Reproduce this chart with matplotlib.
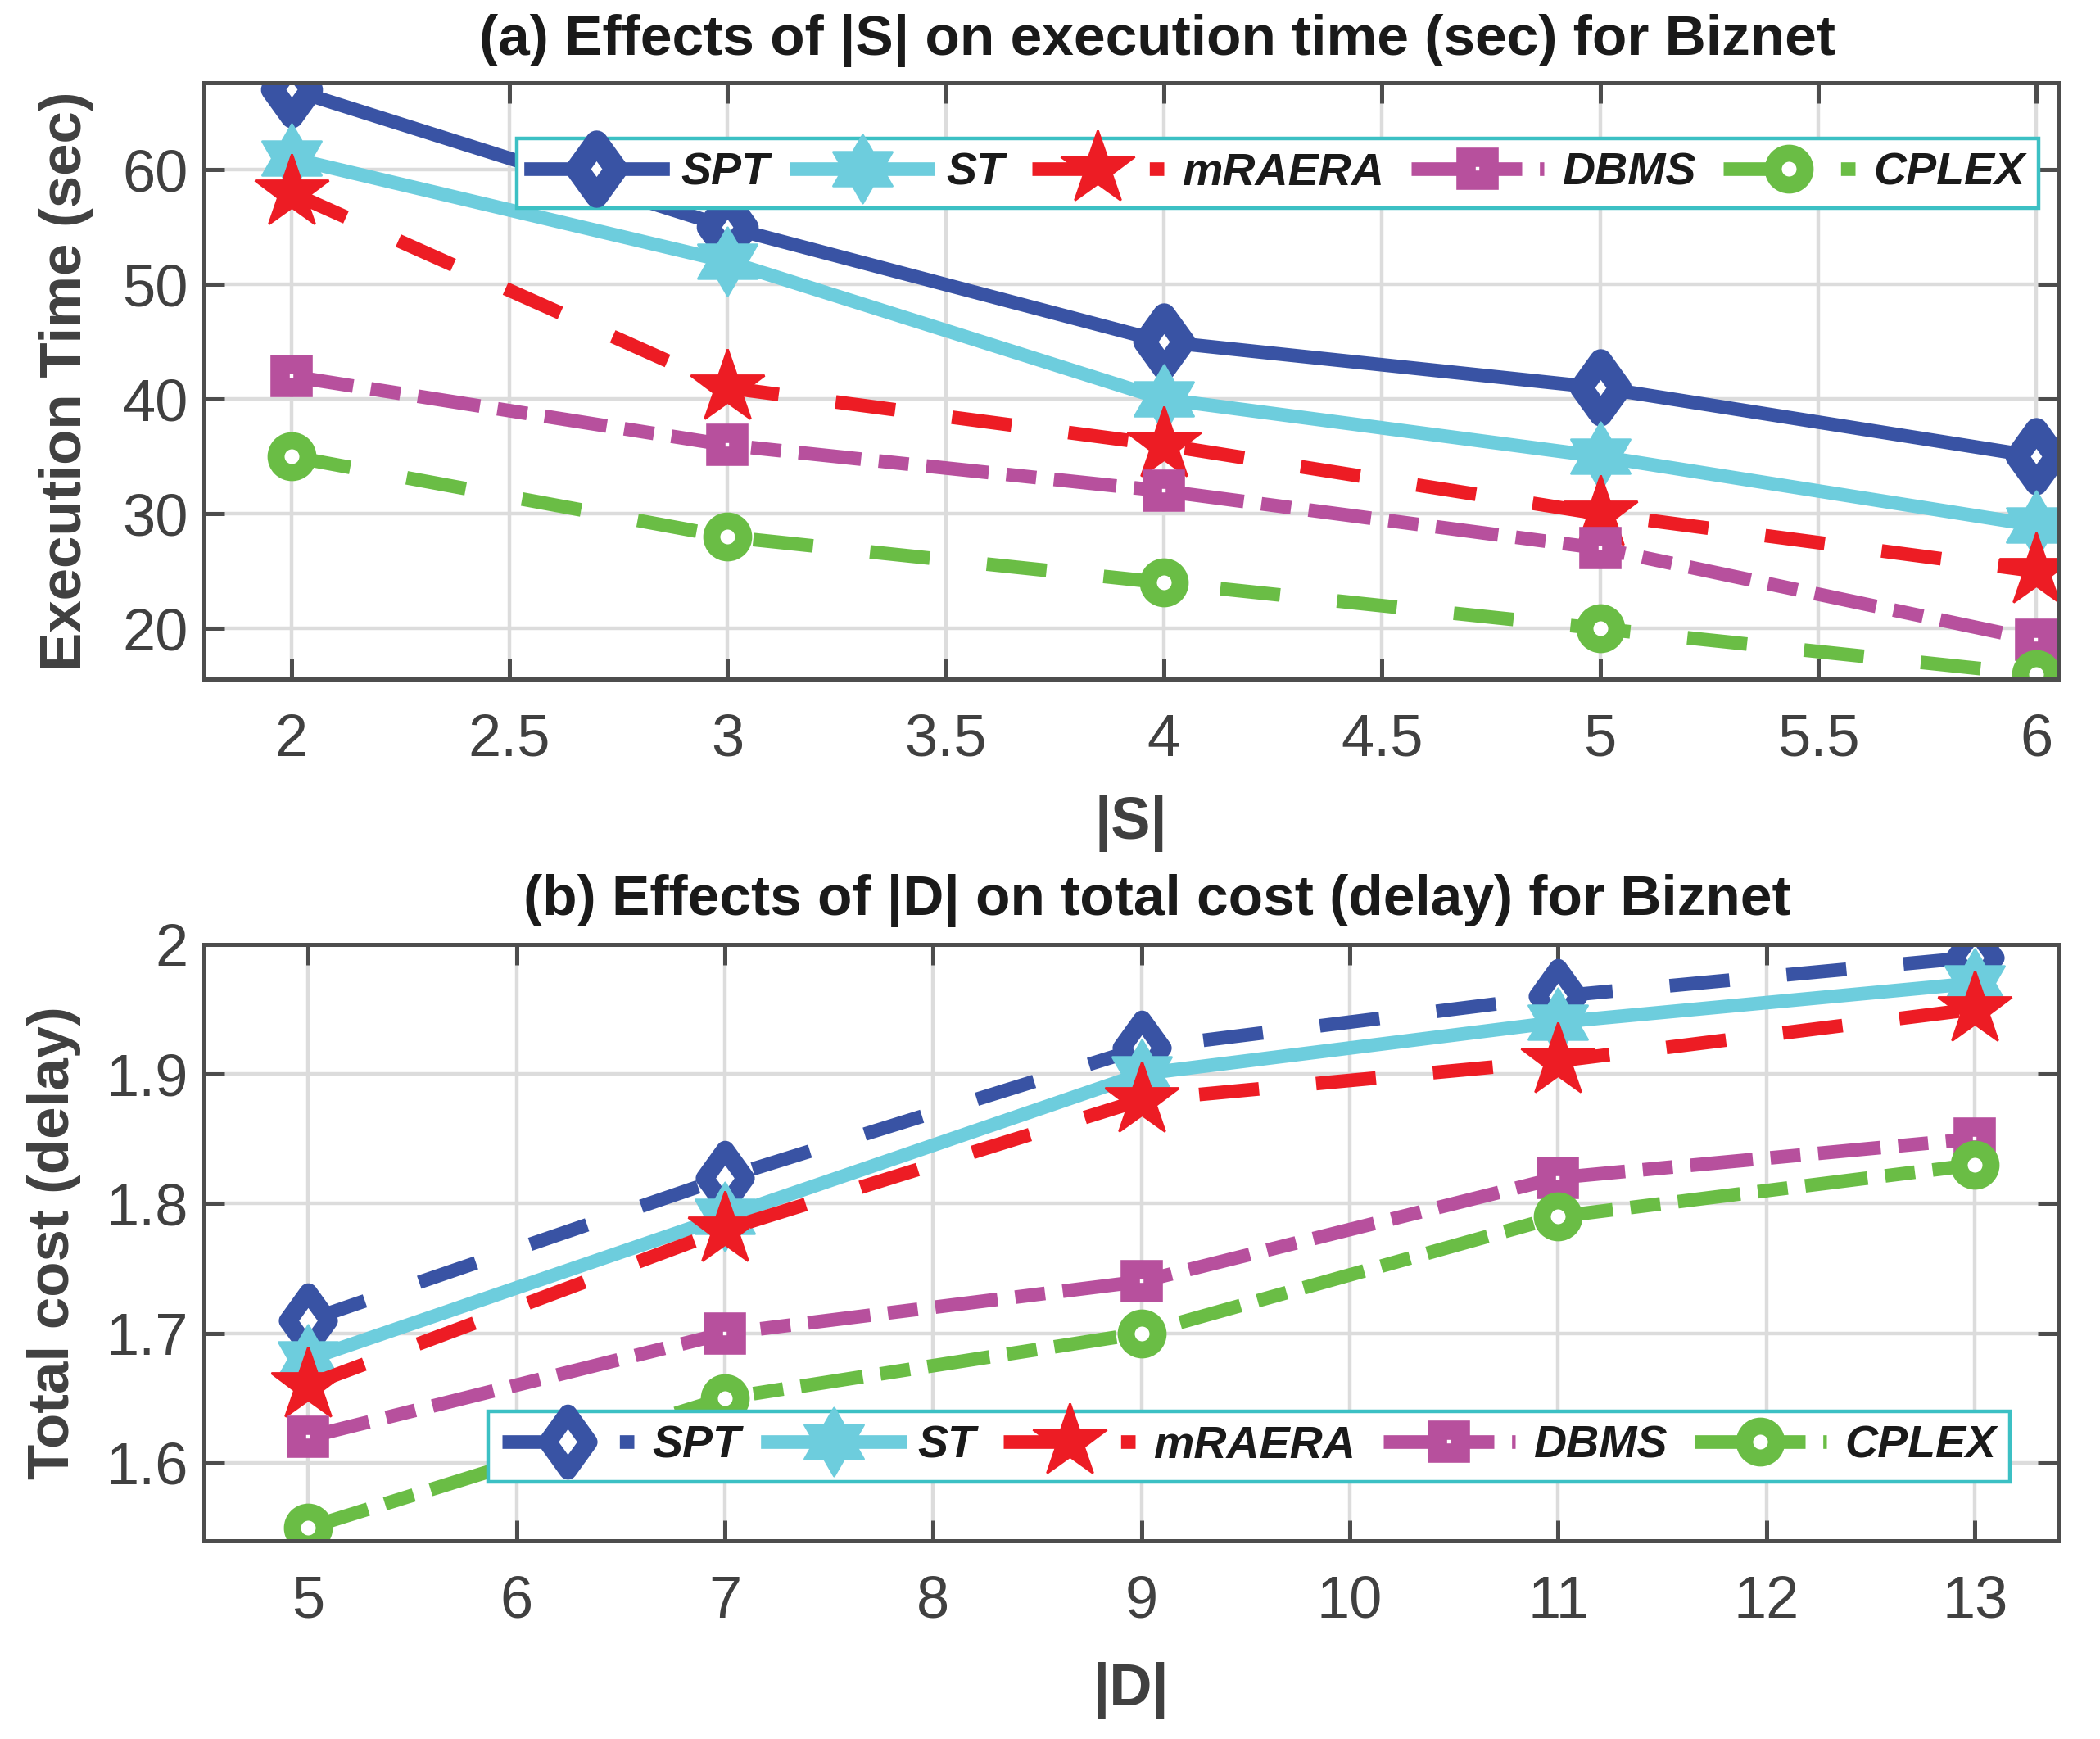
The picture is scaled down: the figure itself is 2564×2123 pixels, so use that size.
import numpy as np
import matplotlib
matplotlib.use("Agg")
import matplotlib.pyplot as plt
from matplotlib.path import Path
from matplotlib.markers import MarkerStyle

plt.rcParams['font.family'] = ['Liberation Sans', 'DejaVu Sans']

# data
methods = ['SPT', 'ST', 'mRAERA', 'DBMS', 'CPLEX']
s_values = [2, 3, 4, 5, 6]
time_spt = [67, 55, 45, 41, 35]
time_st = [61, 52, 40, 35, 29]
time_mraera = [58, 41, 36, 30, 25]
time_dbms = [42, 36, 32, 27, 19]
time_cplex = [35, 28, 24, 20, 16]

d_values = [5, 7, 9, 11, 13]
cost_spt = [1.71, 1.82, 1.92, 1.96, 1.99]
cost_st = [1.68, 1.79, 1.90, 1.94, 1.97]
cost_mraera = [1.66, 1.78, 1.88, 1.91, 1.95]
cost_dbms = [1.62, 1.70, 1.74, 1.82, 1.85]
cost_cplex = [1.55, 1.65, 1.70, 1.79, 1.83]

colors = ['#3953a4', '#6dcddd', '#ed1c24', '#b7509d', '#6abd45']

# markers (matlab-ish shapes)
diamond = MarkerStyle(Path([(0, 1), (0.72, 0), (0, -1), (-0.72, 0), (0, 1)], closed=True),
                      joinstyle='miter')
ang = np.pi / 2 + np.arange(12) * np.pi / 6
rad = np.where(np.arange(12) % 2 == 0, 1.0, 1 / np.sqrt(3))
hexv = list(zip(rad * np.cos(ang), rad * np.sin(ang))) + [(0, 1)]
hexagram = MarkerStyle(Path(hexv, closed=True), joinstyle='miter')

dashed = (0, (4.4, 4.2))
dashdot = (0, (4.6, 1.3, 2.2, 1.3))

styles_a = [
    dict(marker=diamond, ms=24, mfc='white', mew=10, ls='-'),
    dict(marker=hexagram, ms=30, mew=1, ls='-'),
    dict(marker='*', ms=34, mew=1, ls=dashed),
    dict(marker='s', ms=10, mfc='white', mew=8.5, ls=dashdot),
    dict(marker='o', ms=14, mfc='white', mew=7.5, ls=dashed),
]
styles_b = [
    dict(marker=diamond, ms=25, mfc='white', mew=8, ls=dashed),
    dict(marker=hexagram, ms=30, mew=1, ls='-'),
    dict(marker='*', ms=34, mew=1, ls=dashed),
    dict(marker='s', ms=10, mfc='white', mew=8.5, ls=dashdot),
    dict(marker='o', ms=14, mfc='white', mew=7.5, ls=dashdot),
]

axis_col = '#4d4d4d'
leg_edge = '#3cc0c4'


def style_axes(ax):
    for sp in ax.spines.values():
        sp.set_color(axis_col)
        sp.set_linewidth(1.8)
    ax.tick_params(direction='in', length=9, width=1.8, color=axis_col,
                   labelcolor='#404040', labelsize=26, top=True, right=True)
    ax.tick_params(axis='x', pad=15)
    ax.tick_params(axis='y', pad=7)
    ax.grid(True, color='#dcdcdc', linewidth=1.6)
    ax.set_axisbelow(True)


fig = plt.figure(figsize=(12.82, 10.615), dpi=200)
ax1 = fig.add_axes([0.0971, 0.6095, 0.883, 0.343])
ax2 = fig.add_axes([0.0971, 0.114, 0.883, 0.343])

series_a = [time_spt, time_st, time_mraera, time_dbms, time_cplex]
for name, ys, col, st in zip(methods, series_a, colors, styles_a):
    ax1.plot(s_values, ys, color=col, lw=6, label=name, mec=col, **st)

series_b = [cost_spt, cost_st, cost_mraera, cost_dbms, cost_cplex]
for name, ys, col, st in zip(methods, series_b, colors, styles_b):
    ax2.plot(d_values, ys, color=col, lw=6, label=name, mec=col, **st)

ax1.set_xlim(1.8, 6.05)
ax1.set_ylim(15.6, 67.6)
ax1.set_xticks([2, 2.5, 3, 3.5, 4, 4.5, 5, 5.5, 6])
ax1.set_xticklabels(['2', '2.5', '3', '3.5', '4', '4.5', '5', '5.5', '6'])
ax1.set_yticks([20, 30, 40, 50, 60])

ax2.set_xlim(4.5, 13.4)
ax2.set_ylim(1.54, 2.0)
ax2.set_xticks(range(5, 14))
ax2.set_yticks([1.6, 1.7, 1.8, 1.9, 2.0])
ax2.set_yticklabels(['1.6', '1.7', '1.8', '1.9', '2'])

for ax in (ax1, ax2):
    style_axes(ax)

ax1.text(0.514, 1.071, '(a) Effects of |S| on execution time (sec) for Biznet',
         transform=ax1.transAxes, ha='center', va='center', fontsize=25,
         fontweight='bold', color='#1a1a1a')
ax2.text(0.514, 1.073, '(b) Effects of |D| on total cost (delay) for Biznet',
         transform=ax2.transAxes, ha='center', va='center', fontsize=25,
         fontweight='bold', color='#1a1a1a')

ax1.set_xlabel('|S|', fontsize=26, fontweight='bold', color='#404040')
ax1.set_ylabel('Execution Time (sec)', fontsize=25.5, fontweight='bold', color='#404040')
ax2.set_xlabel('|D|', fontsize=26, fontweight='bold', color='#404040')
ax2.set_ylabel('Total cost (delay)', fontsize=25.5, fontweight='bold', color='#404040')
ax1.xaxis.set_label_coords(0.5, -0.242)
ax2.xaxis.set_label_coords(0.5, -0.25)
ax1.yaxis.set_label_coords(-0.074, 0.5)
ax2.yaxis.set_label_coords(-0.081, 0.5)
for ax in (ax1, ax2):
    ax.xaxis.label.set_va('center')
    ax.yaxis.label.set_va('center')

leg_font = dict(size=20, weight='bold', style='italic')
for ax, pos in ((ax1, (0.579, 0.848)), (ax2, (0.5636, 0.158))):
    leg = ax.legend(loc='center', bbox_to_anchor=pos, ncol=5, prop=leg_font,
                    handlelength=2.9, handletextpad=0.4, columnspacing=0.6,
                    borderpad=0.3, fancybox=False, framealpha=1,
                    edgecolor=leg_edge, borderaxespad=0)
    leg.get_frame().set_linewidth(1.6)
    for t in leg.get_texts():
        t.set_color('#1a1a1a')

fig.savefig('out.png', dpi=200)
